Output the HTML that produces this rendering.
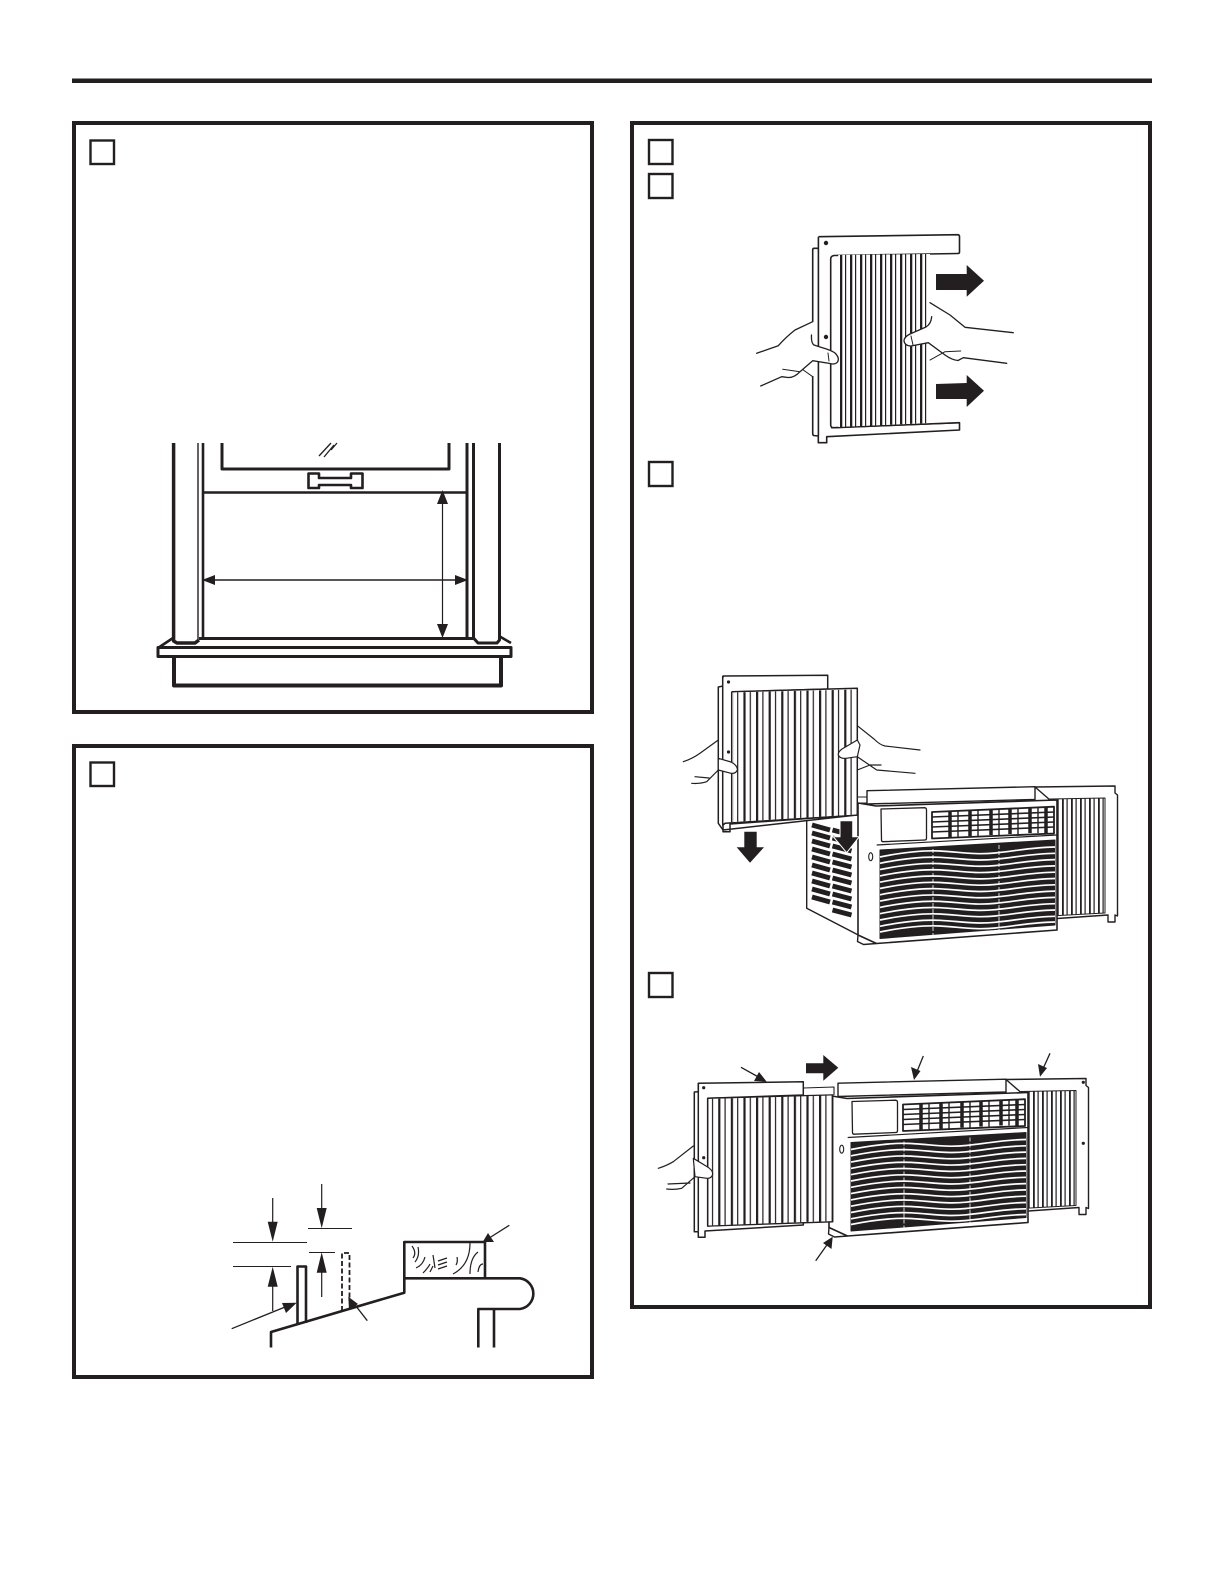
<!DOCTYPE html>
<html>
<head>
<meta charset="utf-8">
<style>
html,body{margin:0;padding:0;background:#fff;width:1225px;height:1585px;overflow:hidden}
svg{display:block}
</style>
</head>
<body>
<svg width="1225" height="1585" viewBox="0 0 1225 1585" xmlns="http://www.w3.org/2000/svg">
<defs>
<pattern id="p1" width="10" height="10" patternUnits="userSpaceOnUse"><rect width="10" height="10" fill="#fff"/><rect x="0" width="2.3" height="10" fill="#231f20"/><rect x="5" width="1.2" height="10" fill="#231f20"/></pattern>
<pattern id="p2" width="12.6" height="10" patternUnits="userSpaceOnUse"><rect width="12.6" height="10" fill="#fff"/><rect x="0" width="2.2" height="10" fill="#231f20"/><rect x="6.3" width="1.2" height="10" fill="#231f20"/></pattern>
<pattern id="p3" width="9" height="10" patternUnits="userSpaceOnUse"><rect width="9" height="10" fill="#fff"/><rect x="0" width="1.8" height="10" fill="#231f20"/><rect x="4.5" width="1.2" height="10" fill="#231f20"/></pattern>
<path id="w" d="M880 857c20-4 40-7 60-6s35 4 55 2s40-6 60-6" fill="none" stroke="#fff" stroke-width="1.7"/>
<g id="unit" stroke="#231f20" stroke-linejoin="round">
  <path d="M1035 787L1115 786V793L1117.5 795V916L1115 915V922H1108V915L1050 919V800Z" fill="#fff" stroke-width="1.4"/>
  <path d="M1050 799L1105 798V913L1050 916Z" fill="url(#p3)" stroke-width="1"/>
  <path d="M858 803L876 806L1057 800V930L876.5 943.5L858 935Z" fill="#fff" stroke-width="1.6"/>
  <path d="M858 935L857.5 941.5L863.5 944.5L876.5 943.5" fill="none" stroke-width="1.4"/>
  <path d="M867 790.7L1035 786.7V799.5L867 804Z" fill="#fff" stroke-width="1.4"/>
  <path d="M881 809L925 807.7Q926.5 808 926.5 810V838Q926.5 840 925 840L883 841.7Q881.5 841.7 881.5 840Z" fill="#fff" stroke-width="1.3"/>
  <path d="M876.7 845L1056.7 835" fill="none" stroke-width="1.2"/>
  <path d="M932 812L1054 806.7V833.5L932 838.5Z" fill="#fff" stroke-width="1.8"/>
  <path d="M932 817L1054 812M932 822L1054 817M932 827L1054 822M932 832L1054 827" fill="none" stroke-width="1.6"/>
  <path d="M950 811V837M970 810V836M991 809V835M1010 808V834M1030 807V833M1046 807V833" fill="none" stroke-width="3.5"/>
  <path d="M958 811V837M978 810V836M999 809V835M1018 808V834M1038 807V833" fill="none" stroke-width="1.4"/>
  <path d="M880 850L1055 840V925L880 938.5Z" fill="#231f20" stroke-width="1"/>
  <use href="#w"/>
  <use href="#w" y="6.3"/><use href="#w" y="12.6"/><use href="#w" y="18.9"/><use href="#w" y="25.2"/><use href="#w" y="31.5"/><use href="#w" y="37.8"/><use href="#w" y="44.1"/><use href="#w" y="50.4"/><use href="#w" y="56.7"/><use href="#w" y="63"/><use href="#w" y="69.3"/><use href="#w" y="75"/>
  <path d="M933 849V935M999 845V931" stroke="#fff" stroke-width="0.8" stroke-dasharray="4 2" fill="none"/>
  <ellipse cx="870.7" cy="856.7" rx="2" ry="4" fill="#fff" stroke-width="1.1"/>
</g>
</defs>

<rect width="1225" height="1585" fill="#fff"/>

<!-- top rule -->
<rect x="72" y="78.5" width="1080" height="4.5" fill="#231f20"/>

<!-- boxes -->
<g fill="none" stroke="#231f20" stroke-width="4">
  <rect x="74" y="123" width="518" height="589"/>
  <rect x="74" y="746" width="518" height="631"/>
  <rect x="632" y="123" width="518" height="1184"/>
</g>
<g fill="none" stroke="#231f20" stroke-width="2.4">
  <rect x="90.5" y="140.5" width="23.5" height="23.5"/>
  <rect x="90.5" y="762.5" width="23.5" height="23.5"/>
  <rect x="649" y="140" width="23.5" height="24"/>
  <rect x="649" y="174" width="23.5" height="24"/>
  <rect x="649" y="462" width="23.5" height="24"/>
  <rect x="649" y="973" width="23.5" height="24"/>
</g>

<!-- window -->
<g fill="none" stroke="#231f20" stroke-linejoin="round">
  <path d="M173.6 443V641L177 643H195L199 640" stroke-width="3.5"/>
  <path d="M198 443V640" stroke-width="1.4"/>
  <path d="M203 443V638" stroke-width="2.6"/>
  <path d="M222 443V469H449V443" stroke-width="3"/>
  <path d="M467 443V638" stroke-width="3"/>
  <path d="M473.5 443V638L478 643H497L499.5 640V443" stroke-width="3"/>
  <path d="M204 492.5H467" stroke-width="2.4"/>
  <path d="M199 638.5H473" stroke-width="3"/>
  <path d="M319 456L331 443M324 457L334 445M331 450L337 443" stroke-width="1.3"/>
  <path d="M308.5 473.5H319V478H351V473.5H362.5V488H351V485H319V488H308.5Z" stroke-width="2.6"/>
  <path d="M158 648L173 638M499 636L511 643" stroke-width="2.6"/>
  <path d="M158 647.5H511V656.5H158Z" fill="#fff" stroke-width="3"/>
  <path d="M174 657V685.5H501V657" stroke-width="4"/>
  <path d="M442.5 497V632" stroke-width="1.2"/>
  <path d="M208 580H462" stroke-width="1.6"/>
</g>
<g fill="#231f20">
  <path d="M442.5 490L448 504H437ZM442.5 638L448 624H437ZM202 580L215 575V585ZM468 580L455 575V585Z"/>
</g>

<!-- section diagram -->
<g fill="none" stroke="#231f20" stroke-linejoin="round">
  <path d="M271 1347.5V1332L404.3 1292.7V1242H485V1278.3M404.3 1278.3H520A15.5 15.5 0 0 1 520 1309H478.3V1347.5M494 1309V1347.5" stroke-width="2.6"/>
  <path d="M297.5 1324V1266.5H306V1323" stroke-width="2.6"/>
  <path d="M342 1311V1253H349.5V1298" stroke-width="1.8" stroke-dasharray="5 2.5"/>
  <path d="M233 1242.5H307M233 1266.5H291M308 1228.5H352M309 1252.5H335" stroke-width="1.1"/>
  <path d="M272.7 1198V1225M272.7 1284V1311M321.7 1184V1212M321.7 1270V1297" stroke-width="1.2"/>
  <path d="M231.7 1328.7L290 1305M367.3 1320.7L352 1301M509.3 1225.3L490 1237.5" stroke-width="1.3"/>
  <path d="M412 1246Q417 1253 413 1258M418 1247Q420 1256 415 1262M416 1268Q423 1265 425 1257M423 1273Q428 1268 430 1264M433 1255L435 1268M430 1272L433 1266M438 1261L447 1258M438 1265L447 1262M438 1269L447 1266M457 1257Q458 1262 456 1265M470 1243Q470 1265 453 1274M478 1252Q470 1258 470 1274M483 1264Q479 1264 478 1272" stroke-width="1.2"/>
</g>
<g fill="#231f20">
  <path d="M272.7 1241.7L267.7 1221.7H277.7ZM272.7 1266.7L267.7 1286.7H277.7ZM321.7 1228.3L316.7 1208H326.7ZM321.7 1252.3L316.7 1272.7H326.7Z"/>
  <path d="M296.7 1302.7L282 1303L286 1313ZM348.3 1296.7L349 1310L358 1304ZM482.7 1242L488 1233L494 1242Z"/>
</g>

<!-- panel 1 : expanding filter -->
<g stroke="#231f20" stroke-linejoin="round" fill="none">
  <path d="M818.5 236.7L958 234.7Q959.5 235 959.5 236.5V252Q959.5 253.5 958 253.5L834 255.5Q830.7 256 830.7 259V425Q830.7 428 834 427.7L959.5 422.7V430L826.7 436.7V442.7H818.3V436L813.5 435.5Q812.7 435 812.7 433V376M812.7 322V250Q812.7 248.3 814 248.3H818.5M818.4 236.7V436" stroke-width="1.6"/>
  <path d="M838.3 255L930 254V423L838.3 427Z" fill="url(#p1)" stroke-width="0"/>
  <path d="M831 428L958 423" stroke-width="1"/>
</g>
<circle cx="826" cy="243" r="2.2" fill="#231f20"/>
<circle cx="826" cy="337" r="2.2" fill="#231f20"/>
<path d="M936 274H966.7V265L984 280.7L966.7 296.7V290H936Z" fill="#231f20"/>
<path d="M936 384L966.7 383V375L984 390.7L966.7 407V399H936Z" fill="#231f20"/>
<g fill="#fff" stroke="#231f20" stroke-width="1.3" stroke-linejoin="round" stroke-linecap="round">
  <path d="M756.7 353.3L778.3 345.7Q786 337 795 330L812.7 321.7M811.5 335Q811 343 814 345" fill="none"/>
  <path d="M814 345C822 348 830 349 835 353Q840 358 837.5 362Q835 365 830 363.5L812.7 360.7L800 371.7Q794 378 788 377.5L781.7 376.7L760.7 386" fill="#fff"/>
  <path d="M930 302.7L950 315L965 327.3L1013.3 332.7" fill="none"/>
  <path d="M931.7 316.7Q931 324 926 327L910 334Q904 337 904 341Q905 346 911 346L928.3 342.7L945 355Q952 360 958 360.5L963.3 357.7L1006.7 363.3L1010 345L940 320Z" stroke="none"/>
  <path d="M931.7 316.7Q931 324 926 327L910 334Q904 337 904 341Q905 346 911 346L928.3 342.7L945 355Q952 360 958 360.5L963.3 357.7L1006.7 363.3" fill="none"/>
  <path d="M930 360L945 351.7L960.7 351M782.7 369.3L800 371.7M803.3 370L812.7 376.7M828 353L829 361M911 336L913 345" fill="none" stroke-width="1"/>
</g>

<!-- panel 3 : sliding on the unit -->
<use href="#unit"/>
<g stroke="#231f20" fill="none" stroke-linejoin="round">
  <path d="M806.7 815V908.3L858.3 935" stroke-width="1.4"/>
  <path d="M858 797H867M858 803H867" stroke-width="1.1"/>
  <path d="M812 825l18 5m-18 3l18 5m-18 3l18 5m-18 3l18 5m-18 3l18 5m-18 3l18 5m-18 3l18 5m-18 3l18 5m-18 3l18 5m-18 3l18 5" stroke-width="5"/>
  <path d="M832.5 830l19 5m-19 3l19 5m-19 3l19 5m-19 3l19 5m-19 3l19 5m-19 3l19 5m-19 3l19 5m-19 3l19 5m-19 3l19 5m-19 3l19 5m-19 3l19 5" stroke-width="5"/>
</g>
<g stroke="#231f20" stroke-linejoin="round" stroke-width="1.5">
  <path d="M723 676L827.7 675.3V689L731.7 692V820L725 823.3L723 825V831.7H730V824L857 815L723 830L718.3 823.3V687L723 686Z" fill="#fff"/>
  <path d="M731.7 691.7L857.3 688.3V815L725 823.3L722.7 825V676" fill="#fff"/>
  <path d="M733 692.5L856 689.5V814.5L733 822Z" fill="url(#p2)" stroke-width="0"/>
  <path d="M731.7 691.7V822" fill="none"/>
</g>
<circle cx="728.5" cy="682" r="1.6" fill="#231f20"/>
<circle cx="728.5" cy="752" r="1.6" fill="#231f20"/>
<path d="M744.3 831.7H756.7V847.3H764L750 862.7L736.7 847.3H744.3Z" fill="#231f20"/>
<path d="M840 820.7H852.7V836.7H859.3L846.7 852.7L833.3 836.7H840Z" fill="#231f20" stroke="#fff" stroke-width="1"/>
<g fill="#fff" stroke="#231f20" stroke-width="1.2" stroke-linejoin="round" stroke-linecap="round">
  <path d="M683.3 761.7Q692 759 700 753.3L718.3 740" fill="none"/>
  <path d="M718.3 758.3L731 762Q737 765 737.5 769.5Q736 774 731 773.3L718.3 770Z"/>
  <path d="M718.3 770L706.7 781.7Q700 784 691.7 783.3M695 776.7L709 778" fill="none"/>
  <path d="M857.3 725.7L874 739Q880 745 885 746L920 750" fill="none"/>
  <path d="M857.3 740L842 749Q838 752 838.3 755Q840 759 846 758.3L857.3 756.7L860 745Z"/>
  <path d="M857.3 756.7L876.7 770L915 773.3M857.3 770L870 765L881 765" fill="none"/>
</g>

<!-- panel 4 : final -->
<use href="#unit" transform="translate(-29 292.5)"/>
<g stroke="#231f20" stroke-linejoin="round" stroke-width="1.5">
  <path d="M698.3 1083.3L803.3 1081.7V1095L707.7 1098.3V1226L803.3 1221V1225L705 1231V1237.3H698.3V1231.7L694.3 1231.7V1092L698.3 1091.7Z" fill="#fff"/>
  <path d="M698.3 1083.3V1231" fill="none"/>
  <path d="M803.3 1088L834 1087V1095" fill="none" stroke-width="1.1"/>
  <path d="M707.7 1098.3L832.7 1095V1221.7L707.7 1226Z" fill="#fff"/>
  <path d="M708.5 1099L832 1095.5V1221L708.5 1225.5Z" fill="url(#p2)" stroke-width="0"/>
</g>
<circle cx="703.7" cy="1087.7" r="1.6" fill="#231f20"/>
<circle cx="703.7" cy="1157.7" r="1.6" fill="#231f20"/>
<circle cx="1083.3" cy="1082.3" r="1.6" fill="#231f20"/>
<circle cx="1083.3" cy="1143.3" r="1.6" fill="#231f20"/>
<path d="M806 1063.3H823.3V1055L838.3 1067.7L823.3 1080.7V1073.3H806Z" fill="#231f20"/>
<g fill="none" stroke="#231f20" stroke-width="1.3">
  <path d="M741 1067.3L762 1079M923.3 1056L916 1074M1050 1053.3L1042 1071M815.7 1260.7L829 1242"/>
</g>
<g fill="#231f20">
  <path d="M766.7 1081.7L754 1081L759 1072ZM914 1080L911 1067L920.5 1071ZM1040 1076.7L1038 1064L1047 1068ZM832.7 1236.7L831.5 1249L823 1243Z"/>
</g>
<g fill="#fff" stroke="#231f20" stroke-width="1.2" stroke-linejoin="round" stroke-linecap="round">
  <path d="M658.3 1168.3Q666 1166 673.3 1161.7L693.3 1146" fill="none"/>
  <path d="M693.3 1158.3L706 1166Q713 1170 712.7 1174Q712 1178.5 707 1178.3L695 1176.7Z"/>
  <path d="M695 1176.7L681.7 1188.3Q674 1190 666.7 1189M668 1184L690 1183" fill="none"/>
</g>
</svg>
</body>
</html>
